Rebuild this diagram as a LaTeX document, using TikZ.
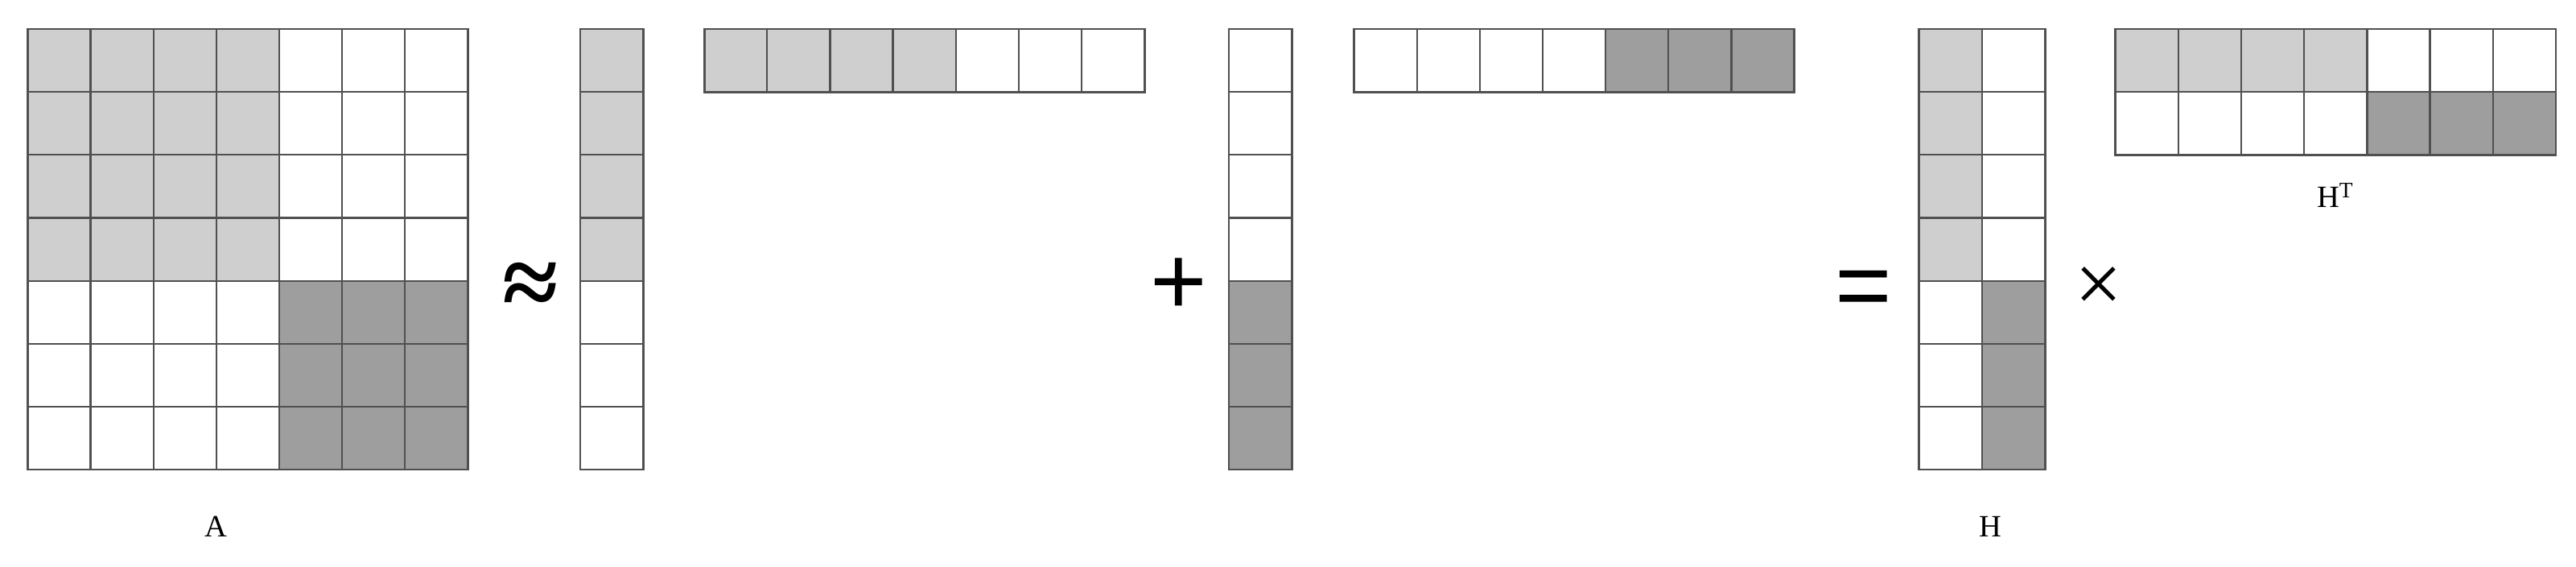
\documentclass[tikz,border=0pt]{standalone}
\usepackage{fontspec}
\setmainfont{Liberation Serif}
\newfontfamily\symfont{Liberation Sans}
\definecolor{lightcell}{HTML}{CFCFCF}
\definecolor{darkcell}{HTML}{9E9E9E}
\definecolor{gridline}{HTML}{505050}

\begin{document}
\begin{tikzpicture}[
    cell/.style={draw=gridline, line width=0.8pt, minimum size=1cm, inner sep=0pt, outer sep=0pt},
    frame/.style={draw=gridline, line width=1pt},
    opsym/.style={inner sep=0pt, font=\symfont\fontsize{44}{48}\selectfont},
    serifsym/.style={inner sep=0pt, font=\bfseries\fontsize{46}{50}\selectfont},
    mlabel/.style={inner sep=0pt, anchor=base, font=\fontsize{14}{16}\selectfont}
]
\useasboundingbox (0,0) rectangle (40.96,-8.996);

% matrix A
\begin{scope}[shift={(0.439,-0.461)}]
\foreach \r in {1,...,7}
  \foreach \c in {1,...,7} {
    \def\cellcol{white}
    \ifnum\r<5 \ifnum\c<5 \def\cellcol{lightcell}\fi\fi
    \ifnum\r>4 \ifnum\c>4 \def\cellcol{darkcell}\fi\fi
    \node[cell, fill=\cellcol] (A-\r-\c) at (\c-0.5,0.5-\r) {};
  }
\end{scope}
\draw[frame] (A-1-1.north west) rectangle (A-7-7.south east);

% first column vector
\begin{scope}[shift={(9.226,-0.461)}]
\foreach \r in {1,...,7} {
    \def\cellcol{white}
    \ifnum\r<5 \def\cellcol{lightcell}\fi
    \node[cell, fill=\cellcol] (u1-\r) at (0.5,0.5-\r) {};
  }
\end{scope}
\draw[frame] (u1-1.north west) rectangle (u1-7.south east);

% first row vector
\begin{scope}[shift={(11.198,-0.461)}]
\foreach \c in {1,...,7} {
    \def\cellcol{white}
    \ifnum\c<5 \def\cellcol{lightcell}\fi
    \node[cell, fill=\cellcol] (v1-\c) at (\c-0.5,-0.5) {};
  }
\end{scope}
\draw[frame] (v1-1.north west) rectangle (v1-7.south east);

% second column vector
\begin{scope}[shift={(19.539,-0.461)}]
\foreach \r in {1,...,7} {
    \def\cellcol{white}
    \ifnum\r>4 \def\cellcol{darkcell}\fi
    \node[cell, fill=\cellcol] (u2-\r) at (0.5,0.5-\r) {};
  }
\end{scope}
\draw[frame] (u2-1.north west) rectangle (u2-7.south east);

% second row vector
\begin{scope}[shift={(21.529,-0.461)}]
\foreach \c in {1,...,7} {
    \def\cellcol{white}
    \ifnum\c>4 \def\cellcol{darkcell}\fi
    \node[cell, fill=\cellcol] (v2-\c) at (\c-0.5,-0.5) {};
  }
\end{scope}
\draw[frame] (v2-1.north west) rectangle (v2-7.south east);

% matrix H
\begin{scope}[shift={(30.516,-0.461)}]
\foreach \r in {1,...,7}
  \foreach \c in {1,2} {
    \def\cellcol{white}
    \ifnum\c=1 \ifnum\r<5 \def\cellcol{lightcell}\fi\fi
    \ifnum\c=2 \ifnum\r>4 \def\cellcol{darkcell}\fi\fi
    \node[cell, fill=\cellcol] (H-\r-\c) at (\c-0.5,0.5-\r) {};
  }
\end{scope}
\draw[frame] (H-1-1.north west) rectangle (H-7-2.south east);

% matrix H transposed
\begin{scope}[shift={(33.638,-0.461)}]
\foreach \r in {1,2}
  \foreach \c in {1,...,7} {
    \def\cellcol{white}
    \ifnum\r=1 \ifnum\c<5 \def\cellcol{lightcell}\fi\fi
    \ifnum\r=2 \ifnum\c>4 \def\cellcol{darkcell}\fi\fi
    \node[cell, fill=\cellcol] (HT-\r-\c) at (\c-0.5,0.5-\r) {};
  }
\end{scope}
\draw[frame] (HT-1-1.north west) rectangle (HT-2-7.south east);

% operators
\node[serifsym] (approx) at (8.433,-4.6) {≈};
\node[opsym] (plus) at (18.746,-4.55) {+};
\node[opsym] (equals) at (29.635,-4.68) {=};
\node[inner sep=0pt, font=\fontsize{38}{42}\selectfont] (times) at (33.372,-4.6) {×};

% labels
\node[mlabel] (labA) at (3.429,-8.531) {A};
\node[mlabel] (labH) at (31.644,-8.531) {H};
\node[mlabel] (labHT) at (37.127,-3.301) {H\raisebox{4.7pt}{\fontsize{10}{12}\selectfont T}};

\end{tikzpicture}
\end{document}
